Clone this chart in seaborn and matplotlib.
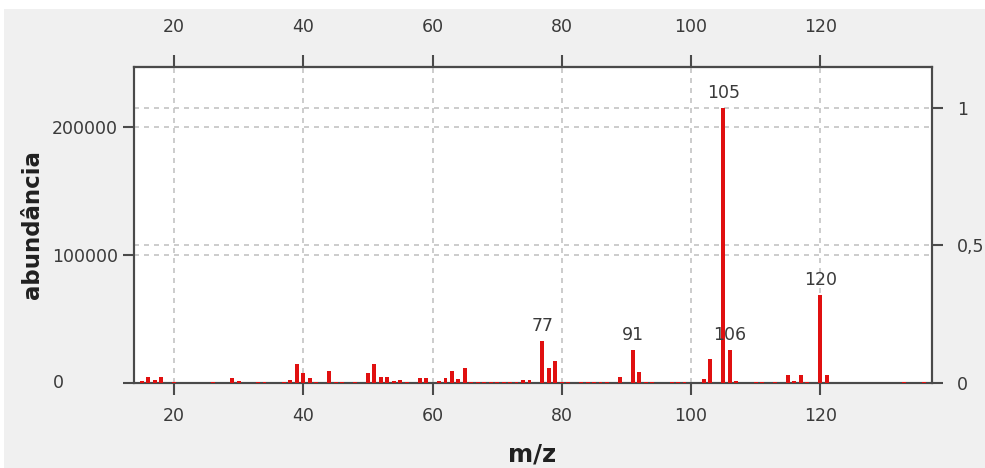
import matplotlib
matplotlib.use("Agg")
import matplotlib.pyplot as plt
from matplotlib.patches import Rectangle
import seaborn as sns
import pandas as pd

# ---- data ----
mz = [15, 16, 17, 18, 20, 26, 29, 30, 33, 34, 37, 38, 39, 40, 41, 42, 44, 45, 46, 48,
      50, 51, 52, 53, 54, 55, 56, 58, 59, 61, 62, 63, 64, 65, 66, 67, 68, 69, 70, 71,
      72, 73, 74, 75, 77, 78, 79, 80, 81, 83, 84, 85, 86, 87, 89, 91, 92, 93, 94, 97,
      98, 99, 102, 103, 105, 106, 107, 110, 111, 113, 115, 116, 117, 118, 120, 121, 133, 136]
abundance = [1500, 4700, 2400, 4700, 800, 800, 4000, 1500, 800, 800, 800, 2400, 15000, 8000, 4000, 800, 9000, 1000, 800, 800,
             8000, 15000, 4700, 4700, 1500, 2300, 800, 4000, 4000, 1500, 4000, 9500, 3000, 12000, 1000, 1000, 1000, 1000, 1000, 1000,
             1000, 1000, 2300, 2300, 32500, 12000, 17500, 1000, 800, 800, 800, 800, 800, 800, 5000, 26000, 8500, 1000, 800, 800,
             800, 800, 3500, 19000, 215000, 26000, 1500, 800, 800, 800, 6000, 1500, 6000, 1000, 69000, 6000, 800, 800]
peak_labels = [77, 91, 105, 106, 120]
x_ticks = [20, 40, 60, 80, 100, 120]
y_ticks = [0, 100000, 200000]
y2_ticks = [0, 0.5, 1]
y2_ticklabels = ["0", "0,5", "1"]
x_limits = (13.8, 137.3)
y_top = 247000

df = pd.DataFrame({"mz": mz, "abundance": abundance})

sns.set_style("ticks")
plt.rcParams["font.family"] = ["DejaVu Sans"]

W, H = 985, 468
fig = plt.figure(figsize=(W / 100, H / 100), dpi=100, facecolor="#f0f0f0")
fig.patches.append(Rectangle((0, 1 - 9 / H), 1, 9 / H, transform=fig.transFigure,
                             facecolor="white", edgecolor="none", zorder=-1))
fig.patches.append(Rectangle((0, 0), 4 / W, 1, transform=fig.transFigure,
                             facecolor="white", edgecolor="none", zorder=-1))

L, R, T, B = 134, 932, 67, 383
ax = fig.add_axes([L / W, 1 - B / H, (R - L) / W, (B - T) / H])
ax2 = ax.twinx()

red = "#e01010"
tick_col = "#4a4a4a"
text_col = "#3a3a3a"
grid_kw = dict(color="#c4c4c4", linestyle=(0, (3, 3)), linewidth=1.2)

sns.barplot(data=df, x="mz", y="abundance", native_scale=True, width=0.6,
            color=red, saturation=1, errorbar=None, ax=ax, zorder=3, linewidth=0)
ax.set_xlim(*x_limits)
ax.set_ylim(0, y_top)
ax.set_xticks(x_ticks)
ax.set_yticks(y_ticks)
ax.set_yticklabels(["", "100000", "200000"])
ax.grid(True, axis="both", **grid_kw)
ax.set_axisbelow(True)

# label for zero on the left, offset like the reference
ax.annotate("0", xy=(0, 0), xycoords=("axes fraction", "data"), xytext=(-76, 0),
            textcoords="offset pixels", ha="center", va="center", fontsize=12.5, color=text_col)

peak = max(abundance)
ax2.set_ylim(0, y_top / peak)
ax2.set_yticks(y2_ticks)
ax2.set_yticklabels(y2_ticklabels)
ax2.grid(True, axis="y", **grid_kw)
ax2.set_zorder(0)
ax.set_zorder(1)
ax.patch.set_alpha(0)
ax2.patch.set_visible(True)
ax2.patch.set_facecolor("white")

for a in (ax, ax2):
    for s in a.spines.values():
        s.set_color(tick_col)
        s.set_linewidth(1.5)

ax.tick_params(axis="x", direction="out", length=8.5, width=1.5, color=tick_col,
               labelsize=12.5, labelcolor=text_col, pad=9)
ax.tick_params(axis="y", direction="out", length=8, width=1.5, color=tick_col,
               labelsize=12.5, labelcolor=text_col, pad=3.5)
ax2.tick_params(axis="y", direction="out", length=8, width=1.5, color=tick_col,
                labelsize=12.5, labelcolor=text_col, pad=10)

sec = ax.secondary_xaxis("top")
sec.set_xticks(x_ticks)
sec.tick_params(direction="out", length=8.5, width=1.5, color=tick_col,
                labelsize=12.5, labelcolor=text_col, pad=14)
sec.spines["top"].set_color(tick_col)
sec.spines["top"].set_linewidth(1.5)

ax.set_xlabel("m/z", fontsize=17.5, fontweight="bold", color="#202020")
ax.xaxis.set_label_coords((532 - L) / (R - L), (B - 442) / (B - T))
ax.xaxis.label.set_va("top")
ax.set_ylabel("abundância", fontsize=16.5, fontweight="bold", color="#202020")
ax.yaxis.set_label_coords((44 - L) / (R - L), 0.5)

for m in peak_labels:
    v = df.loc[df.mz == m, "abundance"].iloc[0]
    ax.annotate(str(m), xy=(m, v), xytext=(0, 6), textcoords="offset pixels",
                ha="center", va="bottom", fontsize=12.5, color=text_col, zorder=5)

fig.savefig("out.png", dpi=100, facecolor=fig.get_facecolor())
